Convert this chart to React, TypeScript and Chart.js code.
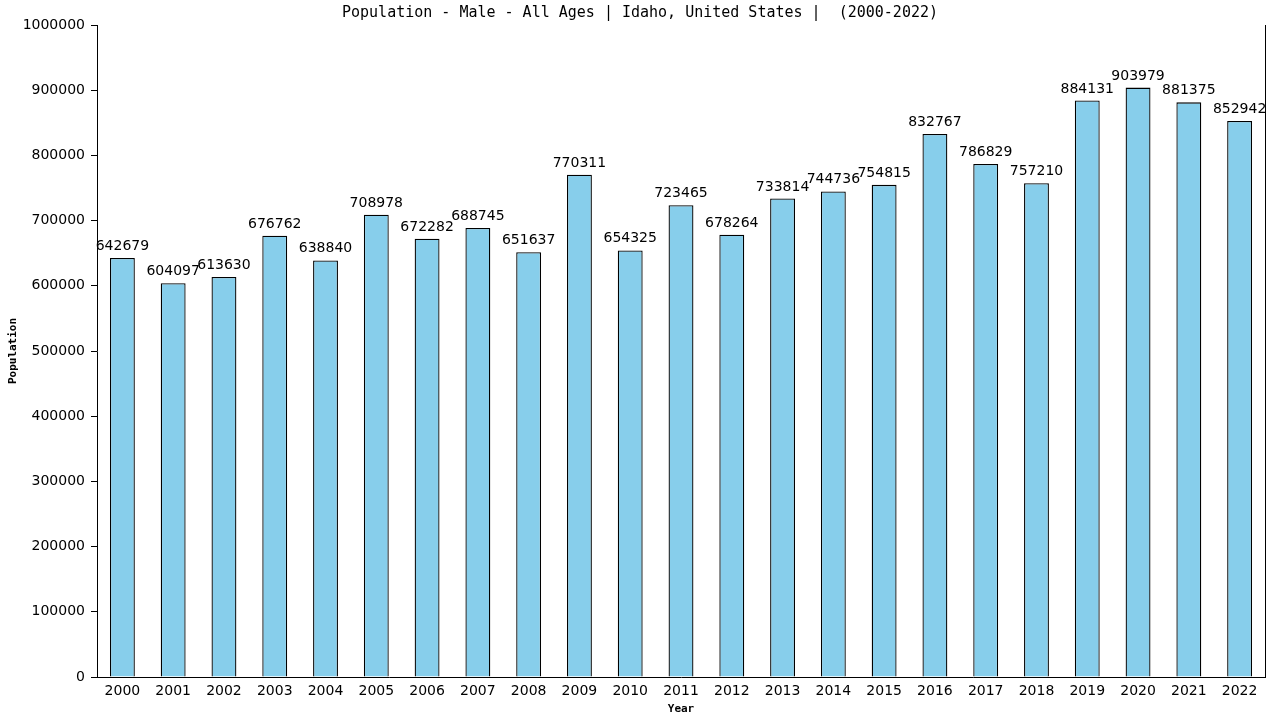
import React, { useEffect, useRef } from 'react';
import { Chart, registerables } from 'chart.js';

Chart.register(...registerables);

const years: string[] = [
  '2000', '2001', '2002', '2003', '2004', '2005', '2006', '2007', '2008', '2009', '2010', '2011',
  '2012', '2013', '2014', '2015', '2016', '2017', '2018', '2019', '2020', '2021', '2022',
];

const malePopulation: number[] = [
  642679, 604097, 613630, 676762, 638840, 708978, 672282, 688745, 651637, 770311, 654325, 723465,
  678264, 733814, 744736, 754815, 832767, 786829, 757210, 884131, 903979, 881375, 852942,
];

const chartTitle = 'Population - Male - All Ages | Idaho, United States |  (2000-2022)';
const xAxisTitle = 'Year';
const yAxisTitle = 'Population';

const barColor = '#87CEEB';
const sansFont = '"DejaVu Sans", Verdana, sans-serif';
const monoFont = '"DejaVu Sans Mono", monospace';

// values over bars, titles and the right-hand frame line
const annotatePlugin = {
  id: 'annotate',
  afterDatasetsDraw(chart: any) {
    const { ctx, chartArea } = chart;
    const meta = chart.getDatasetMeta(0);
    ctx.save();
    ctx.fillStyle = '#000';
    ctx.font = `14px ${sansFont}`;
    ctx.textAlign = 'center';
    ctx.textBaseline = 'alphabetic';
    meta.data.forEach((bar: any, i: number) => {
      ctx.fillText(String(malePopulation[i]), bar.x, bar.y - 8);
    });

    // right frame line
    ctx.strokeStyle = '#000';
    ctx.lineWidth = 1;
    ctx.beginPath();
    ctx.moveTo(Math.round(chartArea.right) + 0.5, chartArea.top);
    ctx.lineTo(Math.round(chartArea.right) + 0.5, chartArea.bottom);
    ctx.stroke();

    ctx.textBaseline = 'middle';
    ctx.font = `15px ${monoFont}`;
    ctx.fillText(chartTitle, chart.width / 2, 13);

    ctx.font = `bold 11px ${monoFont}`;
    ctx.fillText(xAxisTitle, (chartArea.left + chartArea.right) / 2, 709);

    ctx.translate(13, (chartArea.top + chartArea.bottom) / 2);
    ctx.rotate(-Math.PI / 2);
    ctx.fillText(yAxisTitle, 0, 0);
    ctx.restore();
  },
};

const PopulationBarChart: React.FC = () => {
  const canvasRef = useRef<HTMLCanvasElement>(null);
  const chartRef = useRef<Chart | null>(null);

  useEffect(() => {
    document.body.style.margin = '0';
    if (!canvasRef.current) return;
    if (chartRef.current) chartRef.current.destroy();

    chartRef.current = new Chart(canvasRef.current, {
      type: 'bar',
      data: {
        labels: years,
        datasets: [{
          label: yAxisTitle,
          data: malePopulation,
          backgroundColor: barColor,
          borderColor: '#000',
          borderWidth: 1.3,
          barPercentage: 0.49,
          categoryPercentage: 1,
        }],
      },
      options: {
        responsive: false,
        animation: false,
        layout: { padding: { top: 25, right: 15, left: 0, bottom: 0 } },
        plugins: {
          legend: { display: false },
          title: { display: false },
          tooltip: { enabled: false },
        },
        scales: {
          x: {
            afterFit: (scale: any) => { scale.height = 43; },
            grid: { display: true, drawOnChartArea: false, drawTicks: false },
            border: { display: true, color: '#000', width: 1 },
            ticks: { color: '#000', padding: 6, font: { family: sansFont, size: 14 } },
          },
          y: {
            min: 0,
            max: 1000000,
            afterFit: (scale: any) => { scale.width = 97; },
            grid: { display: true, drawOnChartArea: false, drawTicks: true, tickLength: 6, color: '#000' },
            border: { display: true, color: '#000', width: 1 },
            ticks: {
              stepSize: 100000,
              color: '#000',
              padding: 6,
              font: { family: sansFont, size: 14 },
              callback: (value: any) => String(value),
            },
          },
        },
      },
      plugins: [annotatePlugin],
    });

    return () => {
      if (chartRef.current) {
        chartRef.current.destroy();
        chartRef.current = null;
      }
    };
  }, []);

  return <canvas ref={canvasRef} width={1280} height={720} aria-label="Male population of Idaho chart"></canvas>;
};

export default function App() {
  return <PopulationBarChart />;
}
